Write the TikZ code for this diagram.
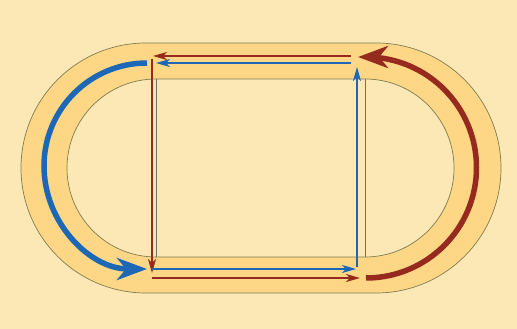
\documentclass[tikz,border=0pt]{standalone}
\usetikzlibrary{arrows.meta}
\definecolor{bgc}{RGB}{251,232,180}
\definecolor{trackc}{RGB}{253,215,133}
\definecolor{edgec}{RGB}{128,124,84}
\definecolor{bluec}{RGB}{28,104,182}
\definecolor{redc}{RGB}{150,42,30}
\definecolor{greyc}{RGB}{100,118,108}
\begin{document}
\begin{tikzpicture}[x=1pt,y=1pt,
  outline/.style={draw=edgec,line width=0.7pt},
  bigarrow/.style={line width=5.5pt,-{Stealth[length=30pt,width=22pt,inset=9pt]}},
  thinarrow/.style={line width=1.4pt,-{Stealth[length=14pt,width=8pt,inset=4pt]}},
  rectline/.style={greyc,line width=0.9pt}]
\fill[bgc] (0,0) rectangle (517,329);
\useasboundingbox (0,0) rectangle (517,329);
% track
\path[fill=trackc,outline] (146,286) -- (376,286) arc[start angle=90,end angle=-90,radius=125]
  -- (146,36) arc[start angle=270,end angle=90,radius=125] -- cycle;
\path[fill=bgc,outline] (156,250) -- (365,250) arc[start angle=90,end angle=-90,radius=89]
  -- (156,72) arc[start angle=270,end angle=90,radius=89] -- cycle;
% inner rectangle sides
\coordinate (lt) at (156,250); \coordinate (lb) at (156,72);
\coordinate (rt) at (365,250); \coordinate (rb) at (365,72);
\draw[rectline] (lt) -- (lb);
\draw[rectline] (rt) -- (rb);
% big curved arrows
\coordinate (bs) at (147,266);
\coordinate (rs) at (366,51);
\draw[bluec,bigarrow] (bs) arc[start angle=90,end angle=270,radius=103];
\draw[redc,bigarrow] (rs) arc[start angle=-90,end angle=90,radius=110.5] -- ++(-8,0);
% thin arrows
\coordinate (a1) at (351,273); \coordinate (a2) at (153,273);
\coordinate (b1) at (351,266); \coordinate (b2) at (156,266);
\coordinate (c1) at (152,270); \coordinate (c2) at (152,56);
\coordinate (d1) at (152,60);  \coordinate (d2) at (356,60);
\coordinate (e1) at (152,51);  \coordinate (e2) at (360,51);
\coordinate (f1) at (357,62);  \coordinate (f2) at (357,262);
\draw[redc,thinarrow] (a1) -- (a2);
\draw[bluec,thinarrow] (b1) -- (b2);
\draw[redc,thinarrow] (c1) -- (c2);
\draw[bluec,thinarrow] (d1) -- (d2);
\draw[redc,thinarrow] (e1) -- (e2);
\draw[bluec,thinarrow] (f1) -- (f2);
\end{tikzpicture}
\end{document}
